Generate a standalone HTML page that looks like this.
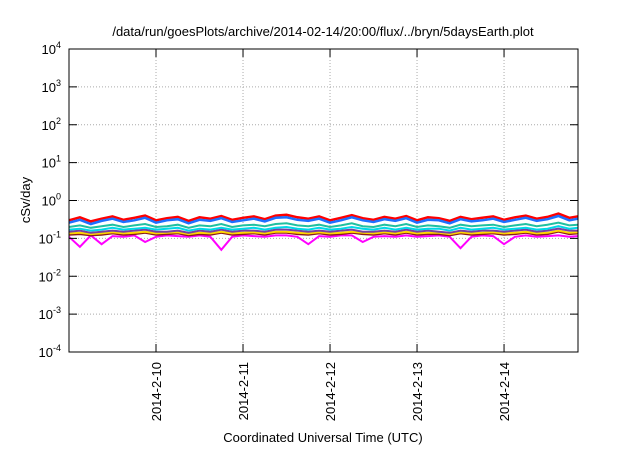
<!DOCTYPE html>
<html><head><meta charset="utf-8"><style>
body{margin:0;background:#fff;font-family:"Liberation Sans",sans-serif}
</style></head><body>
<svg id="chart" width="640" height="448" xmlns="http://www.w3.org/2000/svg" font-family="Liberation Sans, sans-serif">
<text x="323" y="36" text-anchor="middle" font-size="13">/data/run/goesPlots/archive/2014-02-14/20:00/flux/../bryn/5daysEarth.plot</text>
<text transform="translate(30,200) rotate(-90)" text-anchor="middle" font-size="13">cSv/day</text>
<text x="323" y="442" text-anchor="middle" font-size="13">Coordinated Universal Time (UTC)</text>
<g id="grid"></g><g id="series"></g><g id="axes"></g>
<rect x="69" y="49" width="509" height="303" fill="none" stroke="#000" stroke-width="1"/>
</svg>
<script>
const dayLabels=["2014-2-10","2014-2-11","2014-2-12","2014-2-13","2014-2-14"];
const dayValues=[10,11,12,13,14];
const decades=[-4,-3,-2,-1,0,1,2,3,4];
const tStart=9.0, tEnd=14.85, step=0.125;
const red=[0.30,0.36,0.28,0.33,0.38,0.31,0.35,0.40,0.30,0.34,0.37,0.29,0.36,0.33,0.39,0.31,0.35,0.38,0.32,0.40,0.42,0.36,0.33,0.38,0.30,0.35,0.41,0.34,0.31,0.37,0.33,0.39,0.30,0.36,0.34,0.29,0.37,0.32,0.35,0.38,0.31,0.36,0.40,0.33,0.37,0.45,0.35,0.38];
const blue=[0.26,0.31,0.24,0.29,0.33,0.27,0.30,0.35,0.26,0.30,0.32,0.25,0.31,0.29,0.34,0.27,0.30,0.33,0.28,0.35,0.36,0.31,0.29,0.33,0.26,0.30,0.36,0.30,0.27,0.32,0.29,0.34,0.26,0.31,0.30,0.25,0.32,0.28,0.30,0.33,0.27,0.31,0.35,0.29,0.32,0.39,0.30,0.33];
const teal=[0.20,0.22,0.19,0.21,0.23,0.20,0.22,0.24,0.20,0.21,0.23,0.19,0.22,0.21,0.24,0.20,0.22,0.23,0.21,0.24,0.25,0.22,0.21,0.23,0.20,0.22,0.25,0.21,0.20,0.23,0.21,0.24,0.20,0.22,0.21,0.19,0.23,0.21,0.22,0.23,0.20,0.22,0.24,0.21,0.23,0.26,0.22,0.23];
const cyan=[0.17,0.18,0.16,0.17,0.19,0.17,0.18,0.19,0.17,0.18,0.19,0.16,0.18,0.17,0.19,0.17,0.18,0.19,0.17,0.19,0.20,0.18,0.17,0.19,0.17,0.18,0.20,0.18,0.17,0.19,0.17,0.19,0.17,0.18,0.18,0.16,0.19,0.17,0.18,0.19,0.17,0.18,0.19,0.17,0.18,0.21,0.18,0.19];
const purple=[0.15,0.16,0.14,0.15,0.16,0.15,0.16,0.17,0.15,0.15,0.16,0.14,0.16,0.15,0.17,0.15,0.16,0.16,0.15,0.17,0.17,0.16,0.15,0.16,0.15,0.16,0.17,0.15,0.15,0.16,0.15,0.17,0.15,0.16,0.15,0.14,0.16,0.15,0.16,0.16,0.15,0.16,0.17,0.15,0.16,0.18,0.16,0.16];
const yellow=[0.135,0.14,0.13,0.135,0.145,0.135,0.14,0.15,0.135,0.14,0.145,0.13,0.14,0.135,0.15,0.135,0.14,0.145,0.135,0.15,0.15,0.14,0.135,0.145,0.135,0.14,0.15,0.14,0.135,0.145,0.135,0.15,0.135,0.14,0.14,0.13,0.145,0.135,0.14,0.145,0.135,0.14,0.15,0.135,0.14,0.16,0.14,0.145];
const brown=[0.125,0.13,0.12,0.125,0.135,0.125,0.13,0.14,0.125,0.13,0.135,0.12,0.13,0.125,0.14,0.125,0.13,0.135,0.125,0.14,0.14,0.13,0.125,0.135,0.125,0.13,0.14,0.13,0.125,0.135,0.125,0.14,0.125,0.13,0.13,0.12,0.135,0.125,0.13,0.135,0.125,0.13,0.14,0.125,0.13,0.15,0.13,0.135];
const magenta=[0.11,0.06,0.12,0.07,0.115,0.11,0.12,0.08,0.11,0.12,0.115,0.11,0.12,0.11,0.05,0.11,0.12,0.115,0.11,0.12,0.12,0.11,0.07,0.115,0.11,0.12,0.12,0.08,0.11,0.115,0.11,0.12,0.11,0.115,0.12,0.11,0.055,0.11,0.12,0.115,0.07,0.11,0.12,0.11,0.115,0.12,0.11,0.115];
const seriesList=[[magenta,"#ff00ff"],[brown,"#8b1a1a"],[yellow,"#ffd700"],[purple,"#7b3fa0"],[cyan,"#00d8e8"],[teal,"#20c0a0"],[red,"#ff0000"],[blue,"#1e6fff"]];
const NS="http://www.w3.org/2000/svg";
const X0=69,X1=578,Y0=352,Y1=49;
function xs(t){return X0+(t-tStart)/(tEnd-tStart)*(X1-X0);}
function ys(v){return Y0-(Math.log10(v)+4)/8*(Y0-Y1);}
function mk(tag,attrs,parent){const e=document.createElementNS(NS,tag);for(const k in attrs)e.setAttribute(k,attrs[k]);parent.appendChild(e);return e;}
const grid=document.getElementById('grid'),axes=document.getElementById('axes'),ser=document.getElementById('series');
decades.forEach(d=>{
  const y=ys(Math.pow(10,d));
  if(d>-4&&d<4){const g=mk('line',{x1:X0,x2:X1,y1:y,y2:y,stroke:'#aaa','stroke-dasharray':'1,2'},grid);
  
  }
  mk('line',{x1:X0,x2:X0+8,y1:y,y2:y,stroke:'#000'},axes);
  mk('line',{x1:X1,x2:X1-8,y1:y,y2:y,stroke:'#000'},axes);
  const t=mk('text',{x:X0-8,y:y+5,'text-anchor':'end','font-size':'13'},axes);
  
  
  t.textContent='10';
  const s=mk('tspan',{dy:'-6','font-size':'9'},t);s.textContent=String(d);
});
dayValues.forEach((d,i)=>{
  const x=xs(d);
  const g=mk('line',{x1:x,x2:x,y1:Y0,y2:Y1,stroke:'#aaa','stroke-dasharray':'1,2'},grid);
  
  
  mk('line',{x1:x,x2:x,y1:Y0,y2:Y0-8,stroke:'#000'},axes);
  mk('line',{x1:x,x2:x,y1:Y1,y2:Y1+8,stroke:'#000'},axes);
  const t=mk('text',{transform:`translate(${x+5},362) rotate(-90)`,'text-anchor':'end','font-size':'13'},axes);
  
  
  t.textContent=dayLabels[i];
});
seriesList.forEach(([arr,col],k)=>{
  const pts=arr.map((v,i)=>xs(Math.min(tStart+i*step,tEnd)).toFixed(1)+','+ys(v).toFixed(1)).join(' ');
  const p=mk('polyline',{points:pts,fill:'none',stroke:col,'stroke-width':k>=6?2.5:2},ser);
  
  
});
</script>
</body></html>
